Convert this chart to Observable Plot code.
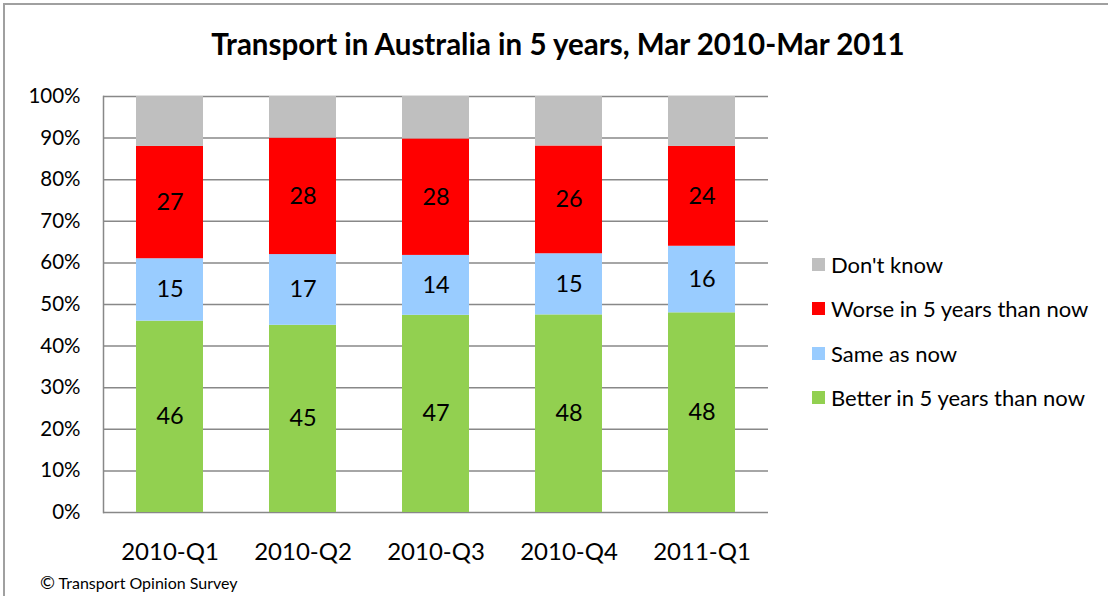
<!DOCTYPE html>
<html><head><meta charset="utf-8">
<script src="https://cdn.jsdelivr.net/npm/d3@7"></script>
<script src="https://cdn.jsdelivr.net/npm/@observablehq/plot@0.6"></script>
<style>
body{margin:0;background:#fff;font-family:Lato,"Open Sans",sans-serif;}
#wrap{position:relative;width:1108px;height:596px;overflow:hidden;}
#border{position:absolute;left:3px;top:3px;width:1110px;height:600px;border:2px solid #a0a0a0;box-sizing:border-box;}
#title{position:absolute;left:0;width:1116px;top:26px;text-align:center;font-weight:bold;font-size:29.5px;line-height:36px;color:#000;}
#legend{position:absolute;left:812px;top:242px;font-size:22px;color:#000;}
.item{display:flex;align-items:center;height:44.5px;}
.sw{width:13px;height:13px;margin-right:6px;}
#caption{position:absolute;left:40px;top:571px;font-size:16px;color:#000;}
#chart{position:absolute;left:0;top:0;}
</style></head>
<body>
<div id="wrap">
<div id="border"></div>
<div id="chart"></div>
<div id="title">Transport in Australia in 5 years, Mar 2010-Mar 2011</div>
<div id="legend"></div>
<div id="caption"><span style="font-size:18px">©</span> Transport Opinion Survey</div>
</div>
<script>
const quarters = ["2010-Q1","2010-Q2","2010-Q3","2010-Q4","2011-Q1"];
const series = ["Better in 5 years than now","Same as now","Worse in 5 years than now","Don't know"];
const colors = ["#92D050","#99CCFF","#FF0000","#BFBFBF"];
const better = [46,45,47.4,47.5,48];
const same = [15,17,14.4,14.7,16];
const worse = [27,28,28,25.9,24];
const dontKnow = quarters.map((q,i)=>100-better[i]-same[i]-worse[i]);
const yTicks = [0,10,20,30,40,50,60,70,80,90,100];

const values = [better, same, worse, dontKnow];
const data = [];
series.forEach((s,si)=>quarters.forEach((q,qi)=>data.push({quarter:q, series:s, value:values[si][qi]})));

const chart = Plot.plot({
  width:1108, height:596,
  marginLeft:103, marginRight:340, marginTop:96, marginBottom:84,
  style:{fontFamily:"Lato, 'Open Sans', sans-serif", background:"transparent"},
  x:{domain:quarters, paddingInner:0.5, paddingOuter:0.25, label:null},
  y:{domain:[0,100], label:null},
  color:{domain:series, range:colors},
  marks:[
    Plot.gridY(yTicks,{stroke:"#888", strokeOpacity:1, strokeWidth:1.5}),
    Plot.frame({anchor:"left", stroke:"#888", strokeWidth:1.5}),
    Plot.barY(data, Plot.stackY({x:"quarter", y:"value", z:"series", fill:"series", order:null})),
    Plot.text(data, Plot.stackY({x:"quarter", y:"value", z:"series", order:null,
      text:d=>d.series==="Don't know"?"":String(Math.round(d.value)), fontSize:23.5, fill:"#000"})),
    Plot.axisY(yTicks,{tickSize:0, tickPadding:23, tickFormat:d=>d+"%", fontSize:20.5, fill:"#000", label:null}),
    Plot.axisX({tickSize:0, tickPadding:30, fontSize:24, fill:"#000", label:null})
  ]
});
document.getElementById("chart").appendChild(chart);

const legend = document.getElementById("legend");
[...series].reverse().forEach(s=>{
  const c = colors[series.indexOf(s)];
  const it = document.createElement("div");
  it.className="item";
  it.innerHTML = `<div class="sw" style="background:${c}"></div><span>${s}</span>`;
  legend.appendChild(it);
});
</script>
</body></html>
